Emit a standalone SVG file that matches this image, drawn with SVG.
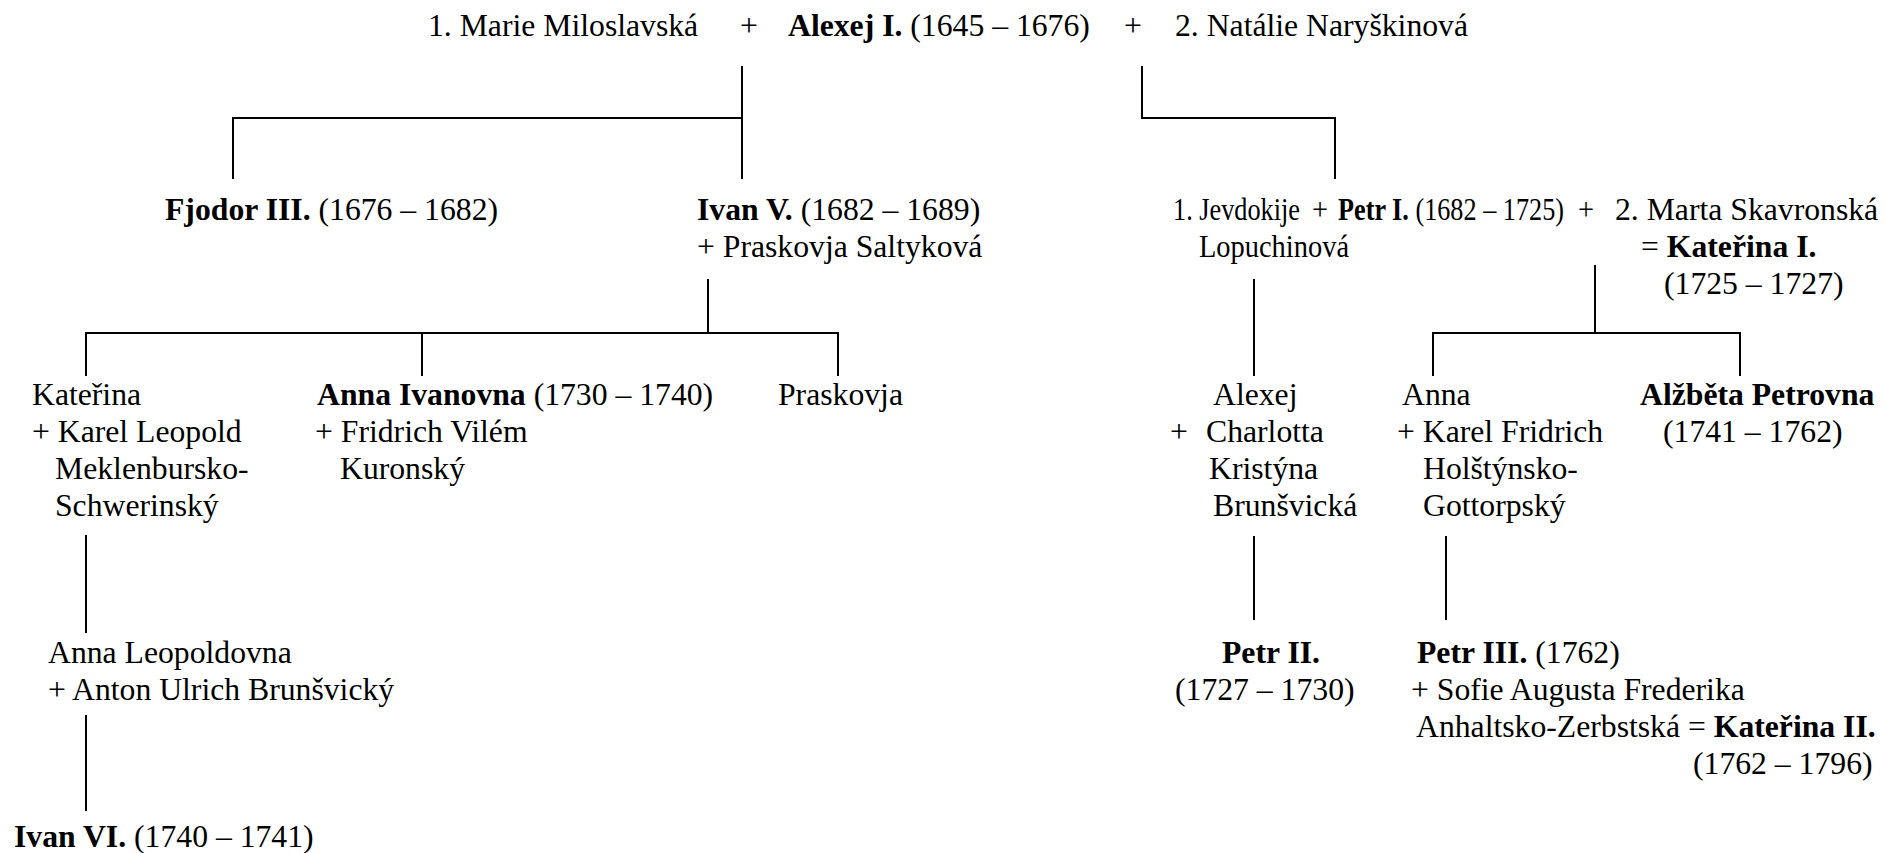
<svg xmlns="http://www.w3.org/2000/svg" width="1886" height="853" viewBox="0 0 1886 853">
<style>
text{font-family:"Liberation Serif","Times New Roman",serif;font-size:31.7px;fill:#000}
.b{font-weight:bold}
#connectors line{stroke:#000;stroke-width:2;stroke-linecap:square}
</style>
<rect width="1886" height="853" fill="#fff"/>
<g id="connectors">
<line x1="742" y1="67" x2="742" y2="178"/>
<line x1="233" y1="118" x2="742" y2="118"/>
<line x1="233" y1="118" x2="233" y2="178"/>
<line x1="1142" y1="67" x2="1142" y2="118"/>
<line x1="1142" y1="118" x2="1335" y2="118"/>
<line x1="1335" y1="118" x2="1335" y2="178"/>
<line x1="708" y1="280" x2="708" y2="333"/>
<line x1="86" y1="333" x2="838" y2="333"/>
<line x1="86" y1="333" x2="86" y2="375"/>
<line x1="422" y1="333" x2="422" y2="375"/>
<line x1="838" y1="333" x2="838" y2="375"/>
<line x1="86" y1="536" x2="86" y2="632"/>
<line x1="86" y1="716" x2="86" y2="810"/>
<line x1="1254" y1="280" x2="1254" y2="375"/>
<line x1="1595" y1="266" x2="1595" y2="333"/>
<line x1="1433" y1="333" x2="1740" y2="333"/>
<line x1="1433" y1="333" x2="1433" y2="375"/>
<line x1="1740" y1="333" x2="1740" y2="375"/>
<line x1="1254" y1="537" x2="1254" y2="619"/>
<line x1="1446" y1="537" x2="1446" y2="619"/>
</g>
<g id="alexej-i">
<text x="428" y="36">1. Marie Miloslavská</text>
<text x="740" y="36">+</text>
<text x="788" y="36"><tspan class="b">Alexej I.</tspan> (1645 – 1676)</text>
<text x="1124" y="36">+</text>
<text x="1175" y="36">2. Natálie Naryškinová</text>
</g>
<g id="fjodor-iii"><text x="165" y="220"><tspan class="b">Fjodor III.</tspan> (1676 – 1682)</text></g>
<g id="ivan-v">
<text x="697" y="220"><tspan class="b">Ivan V.</tspan> (1682 – 1689)</text>
<text x="697" y="257">+ Praskovja Saltyková</text>
</g>
<g id="petr-i">
<text x="1173" y="220" textLength="127" lengthAdjust="spacingAndGlyphs">1. Jevdokije</text>
<text x="1312" y="220" textLength="16" lengthAdjust="spacingAndGlyphs">+</text>
<text x="1338" y="220" textLength="226" lengthAdjust="spacingAndGlyphs"><tspan class="b">Petr I.</tspan> (1682 – 1725)</text>
<text x="1578" y="220" textLength="16" lengthAdjust="spacingAndGlyphs">+</text>
<text x="1615" y="220">2. Marta Skavronská</text>
<text x="1199" y="257" textLength="150" lengthAdjust="spacingAndGlyphs">Lopuchinová</text>
<text x="1641" y="257">= <tspan class="b">Kateřina I.</tspan></text>
<text x="1664" y="294">(1725 – 1727)</text>
</g>
<g id="katerina">
<text x="32" y="405">Kateřina</text>
<text x="32" y="442">+ Karel Leopold</text>
<text x="55" y="479">Meklenbursko-</text>
<text x="55" y="516">Schwerinský</text>
</g>
<g id="anna-ivanovna">
<text x="317" y="405"><tspan class="b">Anna Ivanovna</tspan> (1730 – 1740)</text>
<text x="315" y="442">+ Fridrich Vilém</text>
<text x="340" y="479">Kuronský</text>
</g>
<g id="praskovja"><text x="778" y="405">Praskovja</text></g>
<g id="alexej">
<text x="1213" y="405">Alexej</text>
<text x="1170" y="442">+</text>
<text x="1206" y="442">Charlotta</text>
<text x="1209" y="479">Kristýna</text>
<text x="1213" y="516">Brunšvická</text>
</g>
<g id="anna">
<text x="1402" y="405">Anna</text>
<text x="1397" y="442">+ Karel Fridrich</text>
<text x="1423" y="479">Holštýnsko-</text>
<text x="1423" y="516">Gottorpský</text>
</g>
<g id="alzbeta-petrovna">
<text x="1640" y="405" class="b">Alžběta Petrovna</text>
<text x="1663" y="442">(1741 – 1762)</text>
</g>
<g id="anna-leopoldovna">
<text x="48" y="663">Anna Leopoldovna</text>
<text x="48" y="700">+ Anton Ulrich Brunšvický</text>
</g>
<g id="petr-ii">
<text x="1222" y="663" class="b">Petr II.</text>
<text x="1175" y="700">(1727 – 1730)</text>
</g>
<g id="petr-iii">
<text x="1417" y="663"><tspan class="b">Petr III.</tspan> (1762)</text>
<text x="1411" y="700">+ Sofie Augusta Frederika</text>
<text x="1416" y="737">Anhaltsko-Zerbstská = <tspan class="b">Kateřina II.</tspan></text>
<text x="1693" y="774">(1762 – 1796)</text>
</g>
<g id="ivan-vi"><text x="14" y="847"><tspan class="b">Ivan VI.</tspan> (1740 – 1741)</text></g>
</svg>
